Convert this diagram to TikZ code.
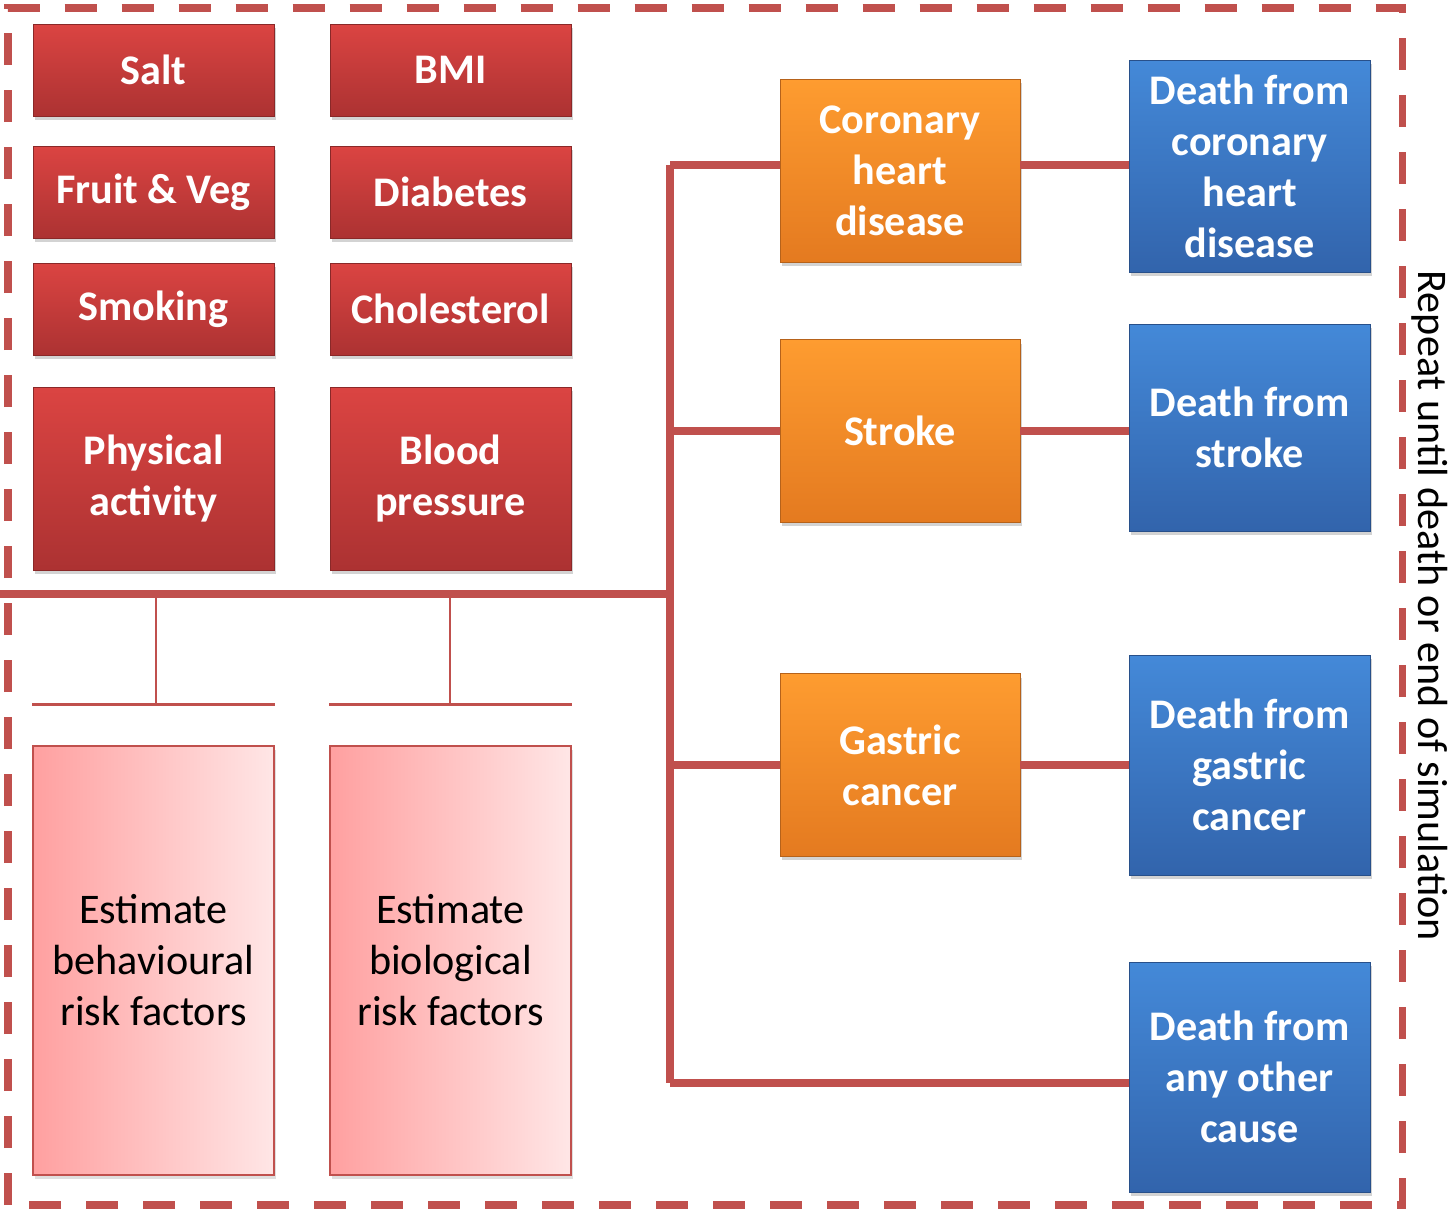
\documentclass[tikz,border=0pt]{standalone}
\usepackage{fontspec}
\setmainfont{Carlito}
\usetikzlibrary{shadows}

\definecolor{lnred}{RGB}{192,80,77}
\definecolor{rtop}{RGB}{219,68,66}
\definecolor{rbot}{RGB}{172,50,50}
\definecolor{otop}{RGB}{254,156,48}
\definecolor{obot}{RGB}{228,122,32}
\definecolor{btop}{RGB}{68,137,216}
\definecolor{bbot}{RGB}{50,100,172}
\definecolor{pkl}{RGB}{255,160,160}
\definecolor{pkr}{RGB}{255,230,230}

\tikzset{
  box/.style={rectangle, align=center, text=white, font=\fontsize{24}{29}\selectfont\bfseries,
    drop shadow={shadow xshift=0.04cm, shadow yshift=-0.08cm, opacity=0.35}},
  riskbox/.style={box, top color=rtop, bottom color=rbot, draw=rbot!80!black, line width=0.4pt,
    minimum width=4.82cm, minimum height=1.84cm},
  diseasebox/.style={box, top color=otop, bottom color=obot, draw=obot!80!black, line width=0.4pt,
    minimum width=4.8cm, minimum height=3.66cm},
  deathbox/.style={box, top color=btop, bottom color=bbot, draw=bbot!80!black, line width=0.4pt,
    minimum width=4.82cm},
  estbox/.style={rectangle, align=center, left color=pkl, right color=pkr, draw=lnred, line width=0.8pt,
    minimum width=4.82cm, minimum height=8.58cm, font=\fontsize{24}{29}\selectfont,
    drop shadow={shadow xshift=0.04cm, shadow yshift=-0.08cm, opacity=0.25}},
  thickln/.style={draw=lnred, line width=4.5pt},
  thinln/.style={draw=lnred, line width=1.7pt}
}

\begin{document}
\begin{tikzpicture}[x=0.02cm, y=-0.02cm]
\useasboundingbox (0,0) rectangle (1454,1210);

% outer loop frame
\draw[lnred, line width=4pt, dash pattern=on 0.64cm off 0.5cm] (8,1205) -- (8,8) -- (1402,8) -- (1402,1205) -- cycle;
\node[rotate=-90, font=\fontsize{24}{29}\selectfont] (repeat) at (1430,606) {Repeat until death or end of simulation};

% risk factors
\node[riskbox] (salt) at (153.5,70) {Salt};
\node[riskbox] (bmi) at (450.5,70) {BMI};
\node[riskbox] (fruit) at (153.5,192) {Fruit \& Veg};
\node[riskbox] (diab) at (450.5,192) {Diabetes};
\node[riskbox] (smok) at (153.5,309) {Smoking};
\node[riskbox] (chol) at (450.5,309) {Cholesterol};
\node[riskbox, minimum height=3.66cm] (phys) at (153.5,478.5) {Physical\\activity};
\node[riskbox, minimum height=3.66cm] (bp) at (450.5,478.5) {Blood\\pressure};

% estimation
\node[estbox] (estbeh) at (153.5,960.5) {Estimate\\behavioural\\risk factors};
\node[estbox] (estbio) at (450.5,960.5) {Estimate\\biological\\risk factors};

% diseases
\node[diseasebox] (chd) at (900,170.5) {Coronary\\heart\\disease};
\node[diseasebox] (stroke) at (900,431) {Stroke};
\node[diseasebox] (gastric) at (900,765) {Gastric\\cancer};

% deaths
\node[deathbox, minimum height=4.24cm] (dchd) at (1249.5,166) {Death from\\coronary\\heart\\disease};
\node[deathbox, minimum height=4.14cm] (dstroke) at (1249.5,427.5) {Death from\\stroke};
\node[deathbox, minimum height=4.4cm] (dgastric) at (1249.5,765) {Death from\\gastric\\cancer};
\node[deathbox, minimum height=4.6cm] (dother) at (1249.5,1077) {Death from\\any other\\cause};

% connectors
\coordinate (barL) at (0,594);
\coordinate (spineT) at (670,165);
\coordinate (spineB) at (670,1083);
\coordinate (behT) at (156,594);
\coordinate (bioT) at (450,594);
\coordinate (behB) at (156,704);
\coordinate (bioB) at (450,704);

\draw[thinln] (behT) -- (behB);
\draw[thinln] (bioT) -- (bioB);
\draw[thinln] (estbeh.west |- behB) -- (estbeh.east |- behB);
\draw[thinln] (estbio.west |- bioB) -- (estbio.east |- bioB);

\draw[thickln] (barL) -- (barL -| spineT);
\draw[thickln] (spineT) -- (spineB);
\draw[thickln] (spineT) -- (chd.west |- spineT);
\draw[thickln] (stroke.west -| spineT) -- (stroke.west);
\draw[thickln] (gastric.west -| spineT) -- (gastric.west);
\draw[thickln] (spineB) -- (dother.west |- spineB);
\draw[thickln] (chd.east |- spineT) -- (dchd.west |- spineT);
\draw[thickln] (stroke.east) -- (stroke.east -| dstroke.west);
\draw[thickln] (gastric.east) -- (gastric.east -| dgastric.west);
\end{tikzpicture}
\end{document}
